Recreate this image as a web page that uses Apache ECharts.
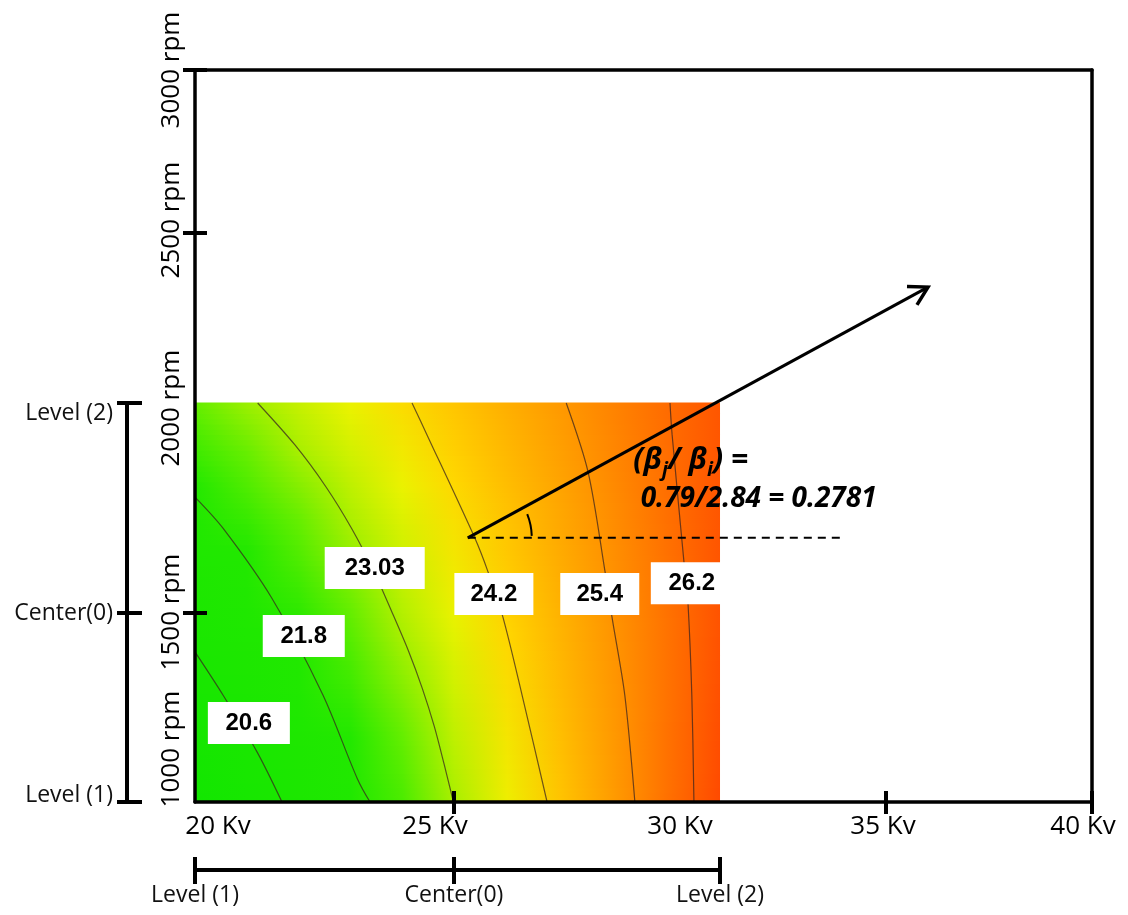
<!DOCTYPE html>
<html><head><meta charset="utf-8">
<script src="https://cdn.jsdelivr.net/npm/echarts@6/dist/echarts.min.js"></script>
<style>html,body{margin:0;padding:0;background:#fff}#c{width:1128px;height:915px}</style>
</head><body><div id="c"></div>
<script>
// ================= DATA =================
// Response surface grid (Kv columns x rpm rows)
const kvValues  = [20, 21, 22, 23, 24, 25, 26, 27, 28, 29, 30];
const rpmValues = [1000, 1100, 1200, 1300, 1400, 1500, 1600, 1700, 1800, 1900, 2000];
const resp1000 = [19.42, 20.13, 20.85, 21.58, 22.31, 23.04, 23.78, 24.52, 25.27, 26.03, 26.79];
const resp1100 = [19.71, 20.39, 21.08, 21.77, 22.46, 23.16, 23.87, 24.58, 25.29, 26.02, 26.74];
const resp1200 = [20.01, 20.65, 21.30, 21.96, 22.62, 23.29, 23.96, 24.64, 25.32, 26.01, 26.70];
const resp1300 = [20.31, 20.92, 21.54, 22.16, 22.79, 23.42, 24.06, 24.70, 25.35, 26.00, 26.66];
const resp1400 = [20.62, 21.20, 21.78, 22.37, 22.96, 23.56, 24.16, 24.77, 25.38, 26.00, 26.63];
const resp1500 = [20.93, 21.47, 22.02, 22.58, 23.14, 23.70, 24.27, 24.84, 25.42, 26.01, 26.60];
const resp1600 = [21.25, 21.76, 22.27, 22.79, 23.32, 23.85, 24.39, 24.93, 25.47, 26.02, 26.58];
const resp1700 = [21.57, 22.05, 22.53, 23.02, 23.51, 24.00, 24.51, 25.01, 25.52, 26.04, 26.56];
const resp1800 = [21.90, 22.35, 22.79, 23.24, 23.70, 24.16, 24.63, 25.10, 25.58, 26.07, 26.55];
const resp1900 = [22.24, 22.65, 23.06, 23.48, 23.90, 24.33, 24.76, 25.20, 25.65, 26.10, 26.55];
const resp2000 = [22.58, 22.95, 23.33, 23.72, 24.11, 24.50, 24.90, 25.30, 25.71, 26.13, 26.55];
const surfaceRows = [resp1000, resp1100, resp1200, resp1300, resp1400, resp1500,
                     resp1600, resp1700, resp1800, resp1900, resp2000];

// Contour lines [Kv, rpm]
const contourLevels = [20.6, 21.8, 23.03, 24.2, 25.4, 26.2];
const contour206  = [[20, 1397], [20.54, 1283], [21.2, 1132], [21.68, 1000]];
const contour218  = [[20, 1776], [20.54, 1702], [21.49, 1534], [22.47, 1283], [23.13, 1063], [23.38, 1000]];
const contour2303 = [[21.21, 2000], [21.93, 1900], [22.53, 1800], [23.03, 1700], [23.45, 1600], [23.81, 1500],
                     [24.12, 1400], [24.39, 1300], [24.62, 1200], [24.81, 1100], [24.99, 1000]];
const contour242  = [[24.19, 2000], [24.48, 1924], [25.39, 1679], [25.64, 1598], [25.92, 1489], [26.28, 1283], [26.75, 1000]];
const contour254  = [[27.11, 2000], [27.52, 1836], [27.84, 1598], [27.97, 1489], [28.21, 1283], [28.40, 1000]];
const contour262  = [[29.06, 2000], [29.10, 1924], [29.34, 1598], [29.40, 1519], [29.47, 1283], [29.51, 1000]];
const contourLines = [contour206, contour218, contour2303, contour242, contour254, contour262];
// where each contour value label sits [Kv, rpm]
const contourLabelAt = [[21.04, 1209], [22.10, 1439], [23.47, 1607], [25.75, 1545], [27.74, 1545], [29.47, 1571]];

// Axes
const xTickValues = [20, 25, 30, 35, 40];
const xTickLabels = ['20 Kv', '25 Kv', '30 Kv', '35 Kv', '40 Kv'];
const yTickValues = [1000, 1500, 2000, 2500, 3000];
const yTickLabels = ['1000 rpm', '1500 rpm', '2000 rpm', '2500 rpm', '3000 rpm'];
const xMarkedTicks = [25, 35, 40];
const yMarkedTicks = [1500, 2500, 3000];
// coded design levels
const codedLabels = ['Level (1)', 'Center(0)', 'Level (2)'];
const levelKv  = [20, 25, 30];
const levelRpm = [1000, 1500, 2000];

// Path of steepest ascent
const arrowStart = [25.26, 1679];
const arrowEnd   = [36.02, 2341];
const dashEnd    = [33.61, 1679];
const betaJ = '0.79', betaI = '2.84', betaRatio = '0.2781';
const formulaAt1 = [28.36, 1862];
const formulaAt2 = [28.50, 1771];

// ================= LAYOUT / STYLE =================
// fraction of the frame at which each tick value is drawn in the original (uneven hand-drawn scale)
const X_FRAC = [0, 0.2887, 0.5853, 0.7703, 1];
const Y_FRAC = [0, 0.2582, 0.5451, 0.7773, 1];
const X_LABEL_FRAC = [0.0256, 0.2676, 0.5407, 0.767, 0.99];
const Y_LABEL_FRAC = [0.0724, 0.2596, 0.538, 0.795, 1.0];
const FONT = "'Open Sans', 'Liberation Sans', sans-serif";
const COLOR_STOPS = [[19.4, '#12e600'], [21.9, '#22e800'], [22.6, '#66ee00'], [23.03, '#a8ef00'],
  [23.7, '#eaf200'], [24.2, '#ffd600'], [24.8, '#ffb400'], [25.4, '#ff9400'], [26.2, '#ff6800'], [26.9, '#ff4400']];
const BOX_W = [82, 82, 100, 79, 79, 82];
const SUB = 8; // shading sub-strips per row band

function interp(v, vals, fr) {
  for (let i = 0; i < vals.length - 1; i++) {
    if (v <= vals[i + 1] || i === vals.length - 2) {
      return fr[i] + (v - vals[i]) / (vals[i + 1] - vals[i]) * (fr[i + 1] - fr[i]);
    }
  }
}
const tx = v => interp(v, xTickValues, X_FRAC);
const ty = v => interp(v, yTickValues, Y_FRAC);
const pt = p => [tx(p[0]), ty(p[1])];

function hex(c) { return [parseInt(c.substr(1, 2), 16), parseInt(c.substr(3, 2), 16), parseInt(c.substr(5, 2), 16)]; }
function colorOf(v) {
  const s = COLOR_STOPS;
  if (v <= s[0][0]) return s[0][1];
  for (let i = 0; i < s.length - 1; i++) {
    if (v <= s[i + 1][0]) {
      const t = (v - s[i][0]) / (s[i + 1][0] - s[i][0]);
      const a = hex(s[i][1]), b = hex(s[i + 1][1]);
      return 'rgb(' + a.map((x, k) => Math.round(x + (b[k] - x) * t)).join(',') + ')';
    }
  }
  return s[s.length - 1][1];
}
function nearestIndex(v, fr) {
  let best = 0;
  fr.forEach((f, i) => { if (Math.abs(f - v) < Math.abs(fr[best] - v)) best = i; });
  return best;
}

const chart = echarts.init(document.getElementById('c'));
const axisLineStyle = { color: '#000', width: 3.5 };
const tickStyle = { color: '#000', width: 4 };

const series = [];
// heat surface: each band between two read rows, shaded smoothly between them
series.push({
  type: 'custom', xAxisIndex: 0, yAxisIndex: 0, z: 1, silent: true,
  data: rpmValues.slice(0, -1).map((r, j) => [j]),
  renderItem: function (params, api) {
    const j = api.value(0);
    const r0 = rpmValues[j], r1 = rpmValues[j + 1];
    const xL = api.coord([tx(kvValues[0]), ty(r0)])[0];
    const xR = api.coord([tx(kvValues[kvValues.length - 1]), ty(r0)])[0];
    const w = xR - xL;
    const offs = kvValues.map(kv => Math.min(1, Math.max(0, (api.coord([tx(kv), ty(r0)])[0] - xL) / w)));
    const children = [];
    for (let s = 0; s < SUB; s++) {
      const t = (s + 0.5) / SUB;
      const yb = api.coord([0, ty(r0 + (r1 - r0) * s / SUB)])[1];
      const yt = api.coord([0, ty(r0 + (r1 - r0) * (s + 1) / SUB)])[1];
      const stops = kvValues.map((kv, i) => ({
        offset: offs[i],
        color: colorOf(surfaceRows[j][i] * (1 - t) + surfaceRows[j + 1][i] * t)
      }));
      children.push({ type: 'rect', shape: { x: xL, y: yt - 0.4, width: w, height: yb - yt + 0.8 },
        style: { fill: new echarts.graphic.LinearGradient(0, 0, 1, 0, stops) } });
    }
    return { type: 'group', children: children };
  }
});
// contour lines
contourLines.forEach((line, k) => {
  series.push({
    type: 'line', name: 'c' + contourLevels[k], xAxisIndex: 0, yAxisIndex: 0, z: 3,
    data: line.map(pt), smooth: 0.3, showSymbol: false, silent: true,
    lineStyle: { color: 'rgba(55,35,30,0.72)', width: 1.2 }
  });
});
// contour value boxes
series.push({
  type: 'scatter', xAxisIndex: 0, yAxisIndex: 0, z: 5, silent: true,
  symbolSize: 1, itemStyle: { color: 'rgba(0,0,0,0)', opacity: 1 },
  data: contourLabelAt.map((p, k) => ({
    value: pt(p),
    label: { show: true, position: 'inside', formatter: String(contourLevels[k]),
      width: BOX_W[k], height: 42, lineHeight: 42, align: 'center', verticalAlign: 'middle',
      backgroundColor: '#fff', color: '#000', fontSize: 24, fontWeight: 'bold', opacity: 1,
      fontFamily: "'Liberation Sans', Arial, sans-serif" }
  }))
});
// dashed reference line
series.push({
  type: 'line', xAxisIndex: 0, yAxisIndex: 0, z: 6, silent: true, showSymbol: false,
  data: [pt(arrowStart), pt(dashEnd)],
  lineStyle: { color: '#000', width: 2, type: [8, 6] }
});
// arrow + angle arc
series.push({
  type: 'custom', xAxisIndex: 0, yAxisIndex: 0, z: 7, silent: true,
  data: [[tx(arrowStart[0]), ty(arrowStart[1]), tx(arrowEnd[0]), ty(arrowEnd[1])]],
  renderItem: function (params, api) {
    const p0 = api.coord([api.value(0), api.value(1)]);
    const p1 = api.coord([api.value(2), api.value(3)]);
    const th = Math.atan2(p1[1] - p0[1], p1[0] - p0[0]);
    const L = 21, a = 0.52;
    const h1 = [p1[0] + L * Math.cos(th + Math.PI - a), p1[1] + L * Math.sin(th + Math.PI - a)];
    const h2 = [p1[0] + L * Math.cos(th + Math.PI + a), p1[1] + L * Math.sin(th + Math.PI + a)];
    return { type: 'group', children: [
      { type: 'line', shape: { x1: p0[0], y1: p0[1], x2: p1[0], y2: p1[1] }, style: { stroke: '#000', lineWidth: 3 } },
      { type: 'polyline', shape: { points: [h1, p1, h2] }, style: { stroke: '#000', lineWidth: 3.5, fill: null, lineJoin: 'miter' } },
      { type: 'arc', shape: { cx: p0[0], cy: p0[1], r: 64, startAngle: -0.38, endAngle: -0.03, clockwise: true },
        style: { stroke: '#000', lineWidth: 2, fill: null } }
    ] };
  }
});
// formula annotation
series.push({
  type: 'scatter', xAxisIndex: 0, yAxisIndex: 0, z: 8, silent: true,
  symbolSize: 1, itemStyle: { color: 'rgba(0,0,0,0)', opacity: 1 },
  data: [
    { value: pt(formulaAt1), label: { show: true, position: 'right', distance: 0, opacity: 1,
        formatter: '{t|(β}{s|j}{t|/ β}{s|i}{t|) =}',
        rich: {
          t: { fontSize: 30, lineHeight: 38, fontWeight: 'bold', fontStyle: 'italic', color: '#000', fontFamily: FONT },
          s: { fontSize: 20, lineHeight: 19, verticalAlign: 'bottom', fontWeight: 'bold', fontStyle: 'italic', color: '#000', fontFamily: FONT }
        } } },
    { value: pt(formulaAt2), label: { show: true, position: 'right', distance: 0, opacity: 1,
        formatter: betaJ + '/' + betaI + ' = ' + betaRatio,
        fontSize: 28, fontWeight: 'bold', fontStyle: 'italic', color: '#000', fontFamily: FONT } }
  ]
});

const lvX = levelKv.map(tx), lvY = levelRpm.map(ty);

const option = {
  animation: false,
  backgroundColor: '#fff',
  grid: [
    { left: 195, right: 36, top: 70, bottom: 113, show: false },
    // ruler grid spans the design region (Level 1 .. Level 2) of the same frame
    { left: 195, width: tx(30) * 897, bottom: 113, height: ty(2000) * 732, show: false }
  ],
  xAxis: [
    { gridIndex: 0, type: 'value', min: 0, max: 1, position: 'bottom', z: 10,
      axisLine: { show: true, onZero: false, lineStyle: axisLineStyle },
      axisTick: { show: true, customValues: xMarkedTicks.map(tx), length: 12, lineStyle: tickStyle },
      axisLabel: { show: true, customValues: X_LABEL_FRAC, formatter: v => xTickLabels[nearestIndex(v, X_LABEL_FRAC)],
        margin: 12, fontSize: 26, color: '#000', fontFamily: FONT },
      splitLine: { show: false } },
    { gridIndex: 0, type: 'value', min: 0, max: 1, position: 'bottom', z: 10,
      axisLine: { show: false, onZero: false },
      axisTick: { show: true, inside: true, customValues: xMarkedTicks.map(tx), length: 11, lineStyle: tickStyle },
      axisLabel: { show: false }, splitLine: { show: false } },
    { gridIndex: 0, type: 'value', min: 0, max: 1, position: 'top', z: 10,
      axisLine: { show: true, onZero: false, lineStyle: axisLineStyle },
      axisTick: { show: false }, axisLabel: { show: false }, splitLine: { show: false } },
    { gridIndex: 1, type: 'value', min: 0, max: tx(30), position: 'bottom', offset: 68, z: 10,
      axisLine: { show: true, onZero: false, lineStyle: { color: '#000', width: 4 } },
      axisTick: { show: true, customValues: lvX, length: 14, lineStyle: tickStyle },
      axisLabel: { show: true, customValues: lvX, formatter: v => codedLabels[nearestIndex(v, lvX)],
        margin: 14, fontSize: 23, color: '#111', fontFamily: FONT },
      splitLine: { show: false } },
    { gridIndex: 1, type: 'value', min: 0, max: tx(30), position: 'bottom', offset: 68, z: 10,
      axisLine: { show: false, onZero: false },
      axisTick: { show: true, inside: true, customValues: lvX, length: 13, lineStyle: tickStyle },
      axisLabel: { show: false }, splitLine: { show: false } }
  ],
  yAxis: [
    { gridIndex: 0, type: 'value', min: 0, max: 1, position: 'left', z: 10,
      axisLine: { show: true, onZero: false, lineStyle: axisLineStyle },
      axisTick: { show: true, customValues: yMarkedTicks.map(ty), length: 12, lineStyle: tickStyle },
      axisLabel: { show: true, customValues: Y_LABEL_FRAC, formatter: v => yTickLabels[nearestIndex(v, Y_LABEL_FRAC)],
        rotate: 90, margin: 10, fontSize: 26, color: '#000', fontFamily: FONT },
      splitLine: { show: false } },
    { gridIndex: 0, type: 'value', min: 0, max: 1, position: 'left', z: 10,
      axisLine: { show: false, onZero: false },
      axisTick: { show: true, inside: true, customValues: yMarkedTicks.map(ty), length: 12, lineStyle: tickStyle },
      axisLabel: { show: false }, splitLine: { show: false } },
    { gridIndex: 0, type: 'value', min: 0, max: 1, position: 'right', z: 10,
      axisLine: { show: true, onZero: false, lineStyle: axisLineStyle },
      axisTick: { show: false }, axisLabel: { show: false }, splitLine: { show: false } },
    { gridIndex: 1, type: 'value', min: 0, max: ty(2000), position: 'left', offset: 68, z: 10,
      axisLine: { show: true, onZero: false, lineStyle: { color: '#000', width: 4 } },
      axisTick: { show: true, customValues: lvY, length: 10, lineStyle: tickStyle },
      axisLabel: { show: true, customValues: lvY, margin: 14, color: '#111',
        formatter: v => { const i = nearestIndex(v, lvY); return '{l' + i + '|' + codedLabels[i] + '}'; },
        rich: {
          l0: { fontSize: 23, fontFamily: FONT, color: '#111', padding: [0, 0, 14, 0] },
          l1: { fontSize: 23, fontFamily: FONT, color: '#111' },
          l2: { fontSize: 23, fontFamily: FONT, color: '#111', padding: [20, 0, 0, 0] }
        } },
      splitLine: { show: false } },
    { gridIndex: 1, type: 'value', min: 0, max: ty(2000), position: 'left', offset: 68, z: 10,
      axisLine: { show: false, onZero: false },
      axisTick: { show: true, inside: true, customValues: lvY, length: 15, lineStyle: tickStyle },
      axisLabel: { show: false }, splitLine: { show: false } }
  ],
  series: series
};
chart.setOption(option);
</script></body></html>
